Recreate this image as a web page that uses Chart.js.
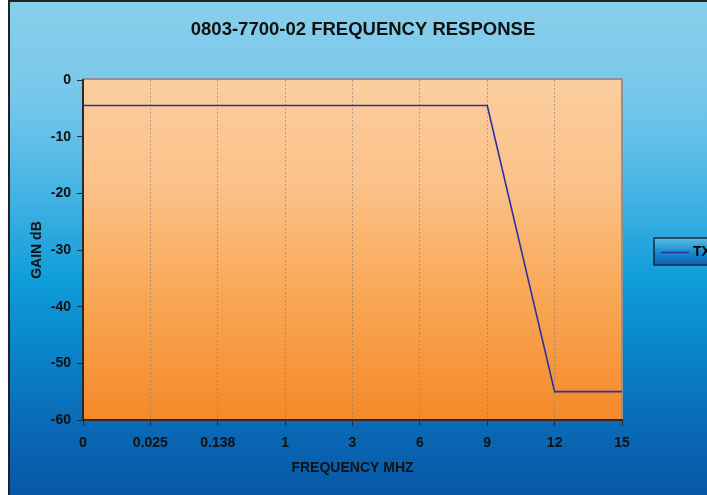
<!DOCTYPE html>
<html>
<head>
<meta charset="utf-8">
<script src="https://cdn.jsdelivr.net/npm/chart.js@4"></script>
<style>
  html, body { margin: 0; padding: 0; background: #fff; overflow: hidden; }
  #frame {
    position: absolute; left: 8px; top: 0;
    border-left: 2px solid #222; border-top: 2px solid #222;
    width: 706px; height: 500px;
  }
  canvas { display: block; }
</style>
</head>
<body>
<div id="frame"><canvas id="c" width="706" height="500"></canvas></div>
<script>
// Frequency response of 0803-7700-02 — Excel-style gradient chart.
const FREQ_LABELS = ['0', '0.025', '0.138', '1', '3', '6', '9', '12', '15'];
const TX_GAIN = [-4.5, -4.5, -4.5, -4.5, -4.5, -4.5, -4.5, -55, -55];
const Y_MIN = -60;
const Y_MAX = 0;
const Y_STEP = 10;

const AXIS = '#2a2a2a';
const FONT = "'Liberation Sans', Arial, sans-serif";

// Backgrounds: blue chart gradient, orange plot gradient, grey plot border, legend box
const decor = {
    id: 'decor',
    beforeDraw(chart) {
        const { ctx, width, height, chartArea: a } = chart;
        ctx.save();
        let g = ctx.createLinearGradient(0, 0, 0, height);
        g.addColorStop(0, '#88cfec');
        g.addColorStop(0.2, '#76c6ea');
        g.addColorStop(0.4, '#3fb1e3');
        g.addColorStop(0.56, '#0e9cd8');
        g.addColorStop(0.68, '#0a87cb');
        g.addColorStop(0.85, '#0a69b6');
        g.addColorStop(1, '#0656a4');
        ctx.fillStyle = g;
        ctx.fillRect(0, 0, width, height);

        g = ctx.createLinearGradient(0, a.top, 0, a.bottom);
        g.addColorStop(0, '#fbcd9e');
        g.addColorStop(0.3, '#fbc28a');
        g.addColorStop(0.6, '#f9aa5a');
        g.addColorStop(1, '#f5892a');
        ctx.fillStyle = g;
        ctx.fillRect(a.left, a.top, a.right - a.left, a.bottom - a.top);

        // plot border (top and right, grey)
        ctx.strokeStyle = '#8a949c';
        ctx.lineWidth = 2;
        ctx.beginPath();
        ctx.moveTo(a.left, a.top - 1);
        ctx.lineTo(a.right, a.top - 1);
        ctx.lineTo(a.right, a.bottom);
        ctx.stroke();
        ctx.restore();
    },
    afterDraw(chart) {
        // legend box on the right, partly outside the window like the original
        const { ctx } = chart;
        const ds = chart.data.datasets[0];
        const x = 644, y = 236, w = 90, h = 27;
        ctx.save();
        const g = ctx.createLinearGradient(0, y, 0, y + h);
        g.addColorStop(0, '#5cbde8');
        g.addColorStop(0.5, '#1c8fd0');
        g.addColorStop(1, '#0a62b0');
        ctx.fillStyle = g;
        ctx.fillRect(x, y, w, h);
        ctx.strokeStyle = '#1a2a3a';
        ctx.lineWidth = 1.5;
        ctx.strokeRect(x, y, w, h);
        ctx.strokeStyle = ds.borderColor;
        ctx.lineWidth = 1.5;
        ctx.beginPath();
        ctx.moveTo(x + 7, y + h / 2 + 1);
        ctx.lineTo(x + 35, y + h / 2 + 1);
        ctx.stroke();
        ctx.fillStyle = '#000';
        ctx.font = 'bold 14px ' + FONT;
        ctx.textBaseline = 'middle';
        ctx.fillText(ds.label, x + 39, y + h / 2 + 1);
        ctx.restore();
    }
};

new Chart(document.getElementById('c'), {
    type: 'line',
    data: {
        labels: FREQ_LABELS,
        datasets: [{
            label: 'TX',
            data: TX_GAIN,
            borderColor: '#2b31a3',
            borderWidth: 1.6,
            pointRadius: 0,
            tension: 0,
            fill: false
        }]
    },
    options: {
        responsive: false,
        animation: false,
        layout: { padding: 0 },
        plugins: {
            legend: { display: false },
            tooltip: { enabled: false },
            title: {
                display: true,
                text: '0803-7700-02 FREQUENCY RESPONSE',
                color: '#111',
                font: { family: FONT, size: 18.5, weight: 'bold' },
                padding: { top: 17, bottom: 38.8 }
            }
        },
        scales: {
            x: {
                type: 'category',
                offset: false,
                afterFit(s) { s.height = 82; },
                grid: {
                    color: (c) => (c.index === 0 || c.index === FREQ_LABELS.length - 1) ? 'rgba(0,0,0,0)' : 'rgba(120,120,120,0.55)',
                    lineWidth: 1,
                    tickColor: AXIS,
                    tickLength: 6,
                    tickBorderDash: []
                },
                border: { display: true, color: AXIS, width: 2, dash: [2, 2] },
                ticks: {
                    color: '#111',
                    padding: 9,
                    maxRotation: 0,
                    autoSkip: false,
                    font: { family: FONT, size: 14, weight: 'bold' }
                },
                title: {
                    display: true,
                    text: 'FREQUENCY MHZ',
                    color: '#111',
                    font: { family: FONT, size: 14, weight: 'bold' },
                    padding: { top: 0, bottom: 25 }
                }
            },
            y: {
                min: Y_MIN,
                max: Y_MAX,
                afterFit(s) { s.width = 73; },
                grid: {
                    drawOnChartArea: false,
                    tickColor: AXIS,
                    tickLength: 6
                },
                border: { display: true, color: AXIS, width: 2 },
                ticks: {
                    stepSize: Y_STEP,
                    color: '#111',
                    padding: 6,
                    font: { family: FONT, size: 14, weight: 'bold' }
                },
                title: {
                    display: true,
                    text: 'GAIN dB',
                    color: '#111',
                    font: { family: FONT, size: 14, weight: 'bold' },
                    padding: { top: 19, bottom: 0 }
                }
            },
            // empty right-hand space that holds the legend, keeps the title centred on the whole chart
            legendSpace: {
                type: 'linear',
                position: 'right',
                afterFit(s) { s.width = 94; },
                ticks: { display: false },
                grid: { display: false },
                border: { display: false }
            }
        }
    },
    plugins: [decor]
});
</script>
</body>
</html>
